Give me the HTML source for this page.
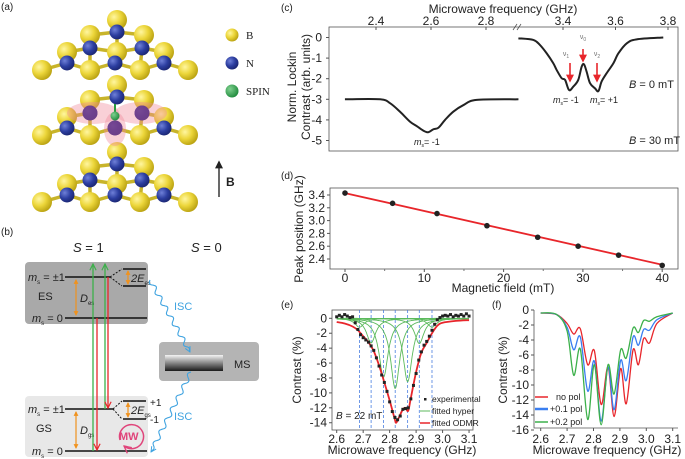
<!DOCTYPE html>
<html><head><meta charset="utf-8"><style>
html,body{margin:0;padding:0;background:#fff;}
svg{display:block;font-family:"Liberation Sans",Arial,sans-serif;}
text{fill:#222;}
</style></head><body>
<svg id="fig" width="685" height="459" viewBox="0 0 685 459" xmlns="http://www.w3.org/2000/svg">
<defs>
<radialGradient id="gy" cx="35%" cy="35%" r="70%"><stop offset="0" stop-color="#fff6a0"/><stop offset="0.5" stop-color="#ecd63a"/><stop offset="1" stop-color="#b8a010"/></radialGradient>
<radialGradient id="gb" cx="35%" cy="35%" r="70%"><stop offset="0" stop-color="#6f80d8"/><stop offset="0.55" stop-color="#2c3ea0"/><stop offset="1" stop-color="#1a2570"/></radialGradient>
<radialGradient id="gg" cx="35%" cy="35%" r="70%"><stop offset="0" stop-color="#7fd08f"/><stop offset="1" stop-color="#1f8a3c"/></radialGradient>
<linearGradient id="msg" x1="0" y1="0" x2="0" y2="1"><stop offset="0" stop-color="#f4f4f4"/><stop offset="1" stop-color="#1a1a1a"/></linearGradient>
<marker id="ah" viewBox="0 0 10 10" refX="9" refY="5" markerWidth="6" markerHeight="6" orient="auto-start-reverse"><path d="M1,1 L9,5 L1,9" fill="none" stroke="context-stroke" stroke-width="1.5"/></marker>
<marker id="ahr" viewBox="0 0 10 10" refX="8" refY="5" markerWidth="5" markerHeight="5" orient="auto"><path d="M0,0 L10,5 L0,10 z" fill="#e8262b"/></marker>
<marker id="aho" viewBox="0 0 10 10" refX="8" refY="5" markerWidth="4" markerHeight="4" orient="auto-start-reverse"><path d="M0,0 L10,5 L0,10 z" fill="#f0921e"/></marker>
<marker id="ahk" viewBox="0 0 10 10" refX="8" refY="5" markerWidth="5" markerHeight="5" orient="auto"><path d="M0,0 L10,5 L0,10 z" fill="#222"/></marker>
</defs>

<!-- Panel (a) -->
<g id="panelA">
<text x="1" y="10" font-size="10">(a)</text>
<g id="atoms"></g>
<g>
<circle cx="232" cy="35" r="6.5" fill="url(#gy)"/>
<text x="246" y="39" font-size="11" font-family="Liberation Serif,serif">B</text>
<circle cx="232" cy="63" r="6.5" fill="url(#gb)"/>
<text x="246" y="67" font-size="11" font-family="Liberation Serif,serif">N</text>
<circle cx="232" cy="91" r="6.5" fill="url(#gg)"/>
<text x="246" y="95" font-size="11" font-family="Liberation Serif,serif">SPIN</text>
</g>
<line x1="219" y1="197" x2="219" y2="162" stroke="#444" stroke-width="1.6" marker-end="url(#ahk)"/>
<text x="226" y="186" font-size="12" font-weight="bold">B</text>
</g>

<!-- Panel (b) -->
<g id="panelB" font-size="11">
<text x="1" y="235" font-size="10">(b)</text>
<text x="73" y="252" font-size="13"><tspan font-style="italic">S</tspan> = 1</text>
<text x="191" y="252" font-size="13"><tspan font-style="italic">S</tspan> = 0</text>
<rect x="25" y="262" width="123" height="62" rx="4" fill="#a9a9a9"/>
<rect x="25" y="396" width="123" height="61" rx="4" fill="#e8e8e8"/>
<rect x="159" y="342" width="100" height="39" rx="4" fill="#b4b4b4"/>
<rect x="165" y="355" width="58" height="16" fill="url(#msg)"/>
<text x="234" y="368" font-size="11">MS</text>
<line x1="65" y1="277" x2="110" y2="277" stroke="#111" stroke-width="1.6"/>
<line x1="65" y1="318" x2="147" y2="318" stroke="#111" stroke-width="1.6"/>
<line x1="65" y1="409" x2="113" y2="409" stroke="#111" stroke-width="1.6"/>
<line x1="65" y1="451" x2="147" y2="451" stroke="#111" stroke-width="1.6"/>
<line x1="123" y1="269" x2="146" y2="269" stroke="#111" stroke-width="1.4"/>
<line x1="123" y1="286" x2="146" y2="286" stroke="#111" stroke-width="1.4"/>
<line x1="123" y1="401" x2="146" y2="401" stroke="#111" stroke-width="1.4"/>
<line x1="123" y1="419" x2="146" y2="419" stroke="#111" stroke-width="1.4"/>
<path d="M110,277 L122,269 M110,277 L122,286 M113,409 L122,401 M113,409 L122,419" stroke="#111" stroke-dasharray="2,1.5" fill="none"/>
<line x1="128" y1="271" x2="128" y2="284" stroke="#f0921e" stroke-width="1.2" marker-start="url(#aho)" marker-end="url(#aho)"/>
<line x1="128" y1="403" x2="128" y2="417" stroke="#f0921e" stroke-width="1.2" marker-start="url(#aho)" marker-end="url(#aho)"/>
<line x1="76" y1="280" x2="76" y2="315" stroke="#f0921e" stroke-width="1.2" marker-start="url(#aho)" marker-end="url(#aho)"/>
<line x1="76" y1="412" x2="76" y2="448" stroke="#f0921e" stroke-width="1.2" marker-start="url(#aho)" marker-end="url(#aho)"/>
<text x="131" y="282" font-size="11"><tspan font-style="italic">2E</tspan><tspan font-size="6" dy="3">es</tspan></text>
<text x="131" y="414" font-size="11"><tspan font-style="italic">2E</tspan><tspan font-size="6" dy="3">gs</tspan></text>
<text x="80" y="302" font-size="11"><tspan font-style="italic">D</tspan><tspan font-size="6" dy="3">es</tspan></text>
<text x="80" y="434" font-size="11"><tspan font-style="italic">D</tspan><tspan font-size="6" dy="3">gs</tspan></text>
<text x="150" y="406" font-size="10">+1</text>
<text x="150" y="423" font-size="10">-1</text>
<text x="38" y="300" font-size="11">ES</text>
<text x="36" y="432" font-size="11">GS</text>
<text x="28" y="281" font-size="11"><tspan font-style="italic">m</tspan><tspan font-size="6" dy="3">s</tspan><tspan dy="-3"> = ±1</tspan></text>
<text x="32" y="322" font-size="11"><tspan font-style="italic">m</tspan><tspan font-size="6" dy="3">s</tspan><tspan dy="-3"> = 0</tspan></text>
<text x="28" y="413" font-size="11"><tspan font-style="italic">m</tspan><tspan font-size="6" dy="3">s</tspan><tspan dy="-3"> = ±1</tspan></text>
<text x="32" y="455" font-size="11"><tspan font-style="italic">m</tspan><tspan font-size="6" dy="3">s</tspan><tspan dy="-3"> = 0</tspan></text>
<line x1="93" y1="451" x2="93" y2="264" stroke="#3cb04a" stroke-width="1.3" marker-end="url(#ah)"/>
<line x1="105" y1="409" x2="105" y2="264" stroke="#3cb04a" stroke-width="1.3" marker-end="url(#ah)"/>
<line x1="97" y1="318" x2="97" y2="450" stroke="#e8262b" stroke-width="1.3" marker-end="url(#ah)"/>
<line x1="108" y1="277" x2="108" y2="408" stroke="#e8262b" stroke-width="1.3" marker-end="url(#ah)"/>
<path d="M120,440 A12,12 0 1 1 124,446" fill="none" stroke="#e0457b" stroke-width="1.5" marker-end="url(#ah)"/>
<text x="119" y="440" font-size="11" font-weight="bold" style="fill:#e0457b">MW</text>
<path id="isc1" fill="none" stroke="#3fa3e0" stroke-width="1.1" marker-end="url(#ah)"/>
<path id="isc2" fill="none" stroke="#3fa3e0" stroke-width="1.1" marker-end="url(#ah)"/>
<text x="174" y="310" font-size="11" style="fill:#3fa3e0">ISC</text>
<text x="174" y="420" font-size="11" style="fill:#3fa3e0">ISC</text>
</g>

<!-- Panel (c) -->
<g id="panelC">
<text x="281" y="11" font-size="10">(c)</text>
<text x="503" y="13" font-size="12" text-anchor="middle">Microwave frequency (GHz)</text>
<rect x="329" y="27" width="349" height="124" fill="none" stroke="#555" stroke-width="0.8"/>
<g id="cAxes"></g>
<g id="cSeries"></g>
<text transform="translate(296,87) rotate(-90)" font-size="12" text-anchor="middle">Norm. Lockin</text>
<text transform="translate(310,87) rotate(-90)" font-size="12" text-anchor="middle">Contrast (arb. units)</text>
<text x="566" y="56" font-size="7" text-anchor="middle" style="fill:#777">ν<tspan font-size="5" dy="2">1</tspan></text>
<text x="583" y="39" font-size="7" text-anchor="middle" style="fill:#777">ν<tspan font-size="5" dy="2">0</tspan></text>
<text x="597" y="56" font-size="7" text-anchor="middle" style="fill:#777">ν<tspan font-size="5" dy="2">2</tspan></text>
<line x1="570" y1="63" x2="570" y2="81" stroke="#e8262b" stroke-width="1.6" marker-end="url(#ahr)"/>
<line x1="583" y1="49" x2="583" y2="61" stroke="#e8262b" stroke-width="1.6" marker-end="url(#ahr)"/>
<line x1="597" y1="63" x2="597" y2="81" stroke="#e8262b" stroke-width="1.6" marker-end="url(#ahr)"/>
<text x="553" y="103" font-size="9"><tspan font-style="italic">m</tspan><tspan font-size="5" dy="2">s</tspan><tspan dy="-2">= -1</tspan></text>
<text x="590" y="103" font-size="9"><tspan font-style="italic">m</tspan><tspan font-size="5" dy="2">s</tspan><tspan dy="-2">= +1</tspan></text>
<text x="414" y="145" font-size="9"><tspan font-style="italic">m</tspan><tspan font-size="5" dy="2">s</tspan><tspan dy="-2">= -1</tspan></text>
<text x="629" y="88" font-size="11"><tspan font-style="italic">B</tspan> =   0 mT</text>
<text x="629" y="144" font-size="11"><tspan font-style="italic">B</tspan> = 30 mT</text>
</g>

<!-- Panel (d) -->
<g id="panelD">
<text x="281" y="179" font-size="10">(d)</text>
<rect x="330" y="188" width="348" height="81" fill="none" stroke="#555" stroke-width="0.8"/>
<g id="dAxes"></g>
<g id="dSeries"></g>
<text transform="translate(303,229) rotate(-90)" font-size="12" text-anchor="middle">Peak position (GHz)</text>
<text x="503" y="292" font-size="12" text-anchor="middle">Magnetic field (mT)</text>
</g>

<!-- Panel (e) -->
<g id="panelE">
<text x="281" y="308" font-size="10">(e)</text>
<rect x="332" y="310" width="141" height="120" fill="none" stroke="#555" stroke-width="0.8"/>
<g id="eAxes"></g>
<g id="eSeries"></g>
<text transform="translate(301,370) rotate(-90)" font-size="12" text-anchor="middle">Contrast (%)</text>
<text x="402" y="454" font-size="12" text-anchor="middle">Microwave frequency (GHz)</text>
<text x="336" y="419" font-size="10"><tspan font-style="italic">B</tspan> = 22 mT</text>
<g font-size="8.5">
<rect x="424" y="398" width="2.5" height="2.5" fill="#222"/>
<text x="432" y="402">experimental</text>
<line x1="420" y1="411" x2="430" y2="411" stroke="#5cba5c" stroke-width="1"/>
<text x="432" y="414">fitted hyper</text>
<line x1="420" y1="423" x2="430" y2="423" stroke="#e8262b" stroke-width="1.5"/>
<text x="432" y="426">fitted ODMR</text>
</g>
</g>

<!-- Panel (f) -->
<g id="panelF">
<text x="492" y="308" font-size="10">(f)</text>
<path d="M534,310 L534,428 L678,428" fill="none" stroke="#555" stroke-width="0.8"/>
<g id="fAxes"></g>
<g id="fSeries"></g>
<text transform="translate(507,370) rotate(-90)" font-size="12" text-anchor="middle">Contrast (%)</text>
<text x="607" y="454" font-size="12" text-anchor="middle">Microwave frequency (GHz)</text>
<g font-size="9">
<line x1="535" y1="397" x2="548" y2="397" stroke="#e8262b" stroke-width="1.5"/>
<text x="556" y="400">no  pol</text>
<line x1="535" y1="409" x2="548" y2="409" stroke="#3a7ef0" stroke-width="2.5"/>
<text x="550" y="412">+0.1 pol</text>
<line x1="535" y1="422" x2="548" y2="422" stroke="#3cb04a" stroke-width="1.5"/>
<text x="550" y="425">+0.2 pol</text>
</g>
</g>
</svg>
<script>
// ===== Panel (c) data =====
const cLeftFreq = [2.287,2.415,2.451,2.487,2.524,2.548,2.572,2.590,2.608,2.627,2.651,2.681,2.718,2.766,2.918];
const cLeftVal  = [-3.0,-3.0,-3.19,-3.6,-4.09,-4.3,-4.52,-4.6,-4.46,-4.38,-4.0,-3.6,-3.28,-3.03,-3.0];
const cRightFreq = [3.230,3.287,3.312,3.338,3.363,3.376,3.395,3.408,3.423,3.439,3.458,3.471,3.480,3.490,3.503,3.522,3.535,3.547,3.566,3.592,3.611,3.643,3.681,3.782];
const cRightVal  = [-0.04,-0.12,-0.36,-0.77,-1.25,-1.58,-1.98,-2.06,-2.55,-2.39,-2.06,-1.42,-1.3,-1.66,-2.22,-2.47,-2.6,-2.14,-1.74,-1.25,-0.77,-0.28,-0.09,0];
const cLeftTicks = [2.4,2.6,2.8];
const cRightTicks = [3.4,3.6,3.8];
const cYTicks = [0,-1,-2,-3,-4,-5];
// ===== Panel (d) data =====
const dField = [0,6,11.6,17.9,24.3,29.4,34.5,40];
const dPeak = [3.43,3.27,3.11,2.92,2.74,2.60,2.46,2.30];
const dFitStart = [0,3.43];
const dFitEnd = [40,2.31];
const dXTicks = [0,10,20,30,40];
const dYTicks = [2.4,2.6,2.8,3.0,3.2,3.4];
// ===== Panel (e) data =====
const eCenters = [2.686,2.730,2.777,2.821,2.868,2.912,2.960];
const eDepths = [-1.2,-3.3,-7.9,-9.4,-8.5,-3.4,-1.2];
const eHwhm = [0.021,0.021,0.021,0.021,0.021,0.021,0.021];
const eFitFreq = [2.60,2.63,2.66,2.68,2.70,2.72,2.74,2.76,2.78,2.80,2.81,2.82,2.825,2.835,2.85,2.86,2.87,2.88,2.90,2.92,2.94,2.96,2.98,3.00,3.05,3.10];
const eFitVal  = [-0.5,-0.7,-1.1,-1.6,-2.4,-3.2,-4.4,-6.3,-8.6,-11.0,-12.3,-13.6,-14.0,-13.3,-12.2,-12.0,-12.4,-10.7,-7.2,-4.6,-3.3,-2.0,-1.0,-0.6,-0.35,-0.25];
const eExpFreq = [2.60,2.61,2.62,2.63,2.64,2.65,2.66,2.67,2.68,2.69,2.70,2.71,2.72,2.73,2.74,2.75,2.76,2.77,2.78,2.79,2.80,2.81,2.82,2.83,2.84,2.85,2.86,2.87,2.88,2.89,2.90,2.91,2.92,2.93,2.94,2.95,2.96,2.97,2.98,2.99,3.00,3.01,3.02,3.03,3.04,3.05,3.06,3.07,3.08,3.09,3.10];
const eExpVal = [0.2,0.4,0.2,0.5,0.3,0.1,0.2,-0.6,-1.5,-2.2,-2.6,-2.9,-3.2,-3.7,-4.3,-5.3,-6.4,-7.6,-8.6,-9.8,-11.2,-12.5,-13.3,-13.6,-13.1,-12.2,-12.1,-12.0,-10.8,-9.0,-7.4,-5.6,-4.5,-3.6,-3.1,-2.4,-1.6,-0.8,-0.2,0.1,0.3,0.4,0.3,0.5,0.2,0.4,0.3,0.5,0.3,0.6,0.3];
const eXTicks = [2.6,2.7,2.8,2.9,3.0,3.1];
const eYTicks = [0,-2,-4,-6,-8,-10,-12,-14];
// ===== Panel (f) data =====
const fFreq = [2.60,2.66,2.70,2.725,2.75,2.778,2.803,2.829,2.855,2.878,2.903,2.924,2.950,2.970,2.990,3.012,3.040,3.10];
const fNoPol = [-0.4,-0.6,-1.8,-3.2,-2.5,-7.3,-5.4,-12.6,-7.6,-14.2,-7.8,-12.5,-5.3,-7.3,-3.8,-4.4,-1.8,-0.4];
const fPol01 = [-0.4,-0.6,-2.3,-5.3,-3.6,-10.8,-6.8,-14.8,-7.6,-13.3,-6.7,-9.4,-3.6,-4.7,-2.6,-2.7,-1.3,-0.4];
const fPol02 = [-0.4,-0.6,-2.8,-8.7,-5.2,-14.6,-7.3,-15.3,-7.3,-11.2,-5.3,-6.4,-2.4,-3.0,-1.4,-1.5,-0.9,-0.4];
const fXTicks = [2.6,2.7,2.8,2.9,3.0,3.1];
const fYTicks = [0,-2,-4,-6,-8,-10,-12,-14,-16];

const NS='http://www.w3.org/2000/svg';
function mk(tag, attrs, parent){const e=document.createElementNS(NS,tag);for(const k in attrs)e.setAttribute(k,attrs[k]);parent.appendChild(e);return e;}
function txt(x,y,s,anchor,size,parent){const t=mk('text',{x:x,y:y,'text-anchor':anchor,'font-size':size},parent);t.textContent=s;return t;}
function crPath(pts){let d='M'+pts[0][0].toFixed(2)+','+pts[0][1].toFixed(2);
 for(let i=0;i<pts.length-1;i++){const p0=pts[Math.max(0,i-1)],p1=pts[i],p2=pts[i+1],p3=pts[Math.min(pts.length-1,i+2)];
 const c1=[p1[0]+(p2[0]-p0[0])/6,p1[1]+(p2[1]-p0[1])/6],c2=[p2[0]-(p3[0]-p1[0])/6,p2[1]-(p3[1]-p1[1])/6];
 d+=' C'+c1[0].toFixed(2)+','+c1[1].toFixed(2)+' '+c2[0].toFixed(2)+','+c2[1].toFixed(2)+' '+p2[0].toFixed(2)+','+p2[1].toFixed(2);}return d;}

// ---- Panel (a) lattice ----
(function(){
 const g=document.getElementById('atoms');
 const tpl=[['B',0,12],['Y',0,0],['Y',-27,15],['Y',27,15],['B',-27,28],['B',25,28],['Y',-50,32],['Y',0,32],['Y',47,32],['B',-50,43],['B',-2,43],['B',47,43],['Y',-75,50],['Y',-27,50],['Y',23,50],['Y',71,50]];
 const layers=[[117,20],[117,85],[117,152]];
 layers.forEach((L,li)=>{
  const lg=mk('g',{},g);
  
  
  const bs=tpl.filter(a=>a[0]==='B'), ys=tpl.filter(a=>a[0]==='Y');
  bs.forEach(b=>ys.forEach(y=>{const dx=b[1]-y[1],dy=b[2]-y[2];const d=Math.hypot(dx,dy);if(d<30){if(li===1&&y[1]===0&&y[2]===32)return;mk('line',{x1:L[0]+b[1],y1:L[1]+b[2],x2:L[0]+y[1],y2:L[1]+y[2],stroke:'#c8b42a','stroke-width':3.5},lg);}}));
  const order=tpl.slice().sort((a,b)=>a[2]-b[2]);
  order.forEach(a=>{
   if(li===1&&a[0]==='Y'&&a[1]===0&&a[2]===32)return;
   mk('circle',{cx:L[0]+a[1],cy:L[1]+a[2],r:a[0]==='Y'?10:7.5,fill:a[0]==='Y'?'url(#gy)':'url(#gb)'},lg);
  });
 });
 const sp=mk('g',{},g);
 
 
 mk('ellipse',{cx:93,cy:113,rx:26,ry:11,fill:'#f08a9a','fill-opacity':0.4},sp);
 mk('ellipse',{cx:141,cy:113,rx:26,ry:11,fill:'#f08a9a','fill-opacity':0.4},sp);
 mk('ellipse',{cx:115,cy:129,rx:11,ry:17,fill:'#f08a9a','fill-opacity':0.4},sp);
 mk('circle',{cx:90,cy:113,r:7.5,fill:'#6a3a8a','fill-opacity':0.8},sp);
 mk('circle',{cx:142,cy:113,r:7.5,fill:'#6a3a8a','fill-opacity':0.8},sp);
 mk('circle',{cx:115,cy:128,r:7.5,fill:'#6a3a8a','fill-opacity':0.8},sp);
 mk('line',{x1:115,y1:104,x2:115,y2:112,stroke:'#2a9a40','stroke-width':2},sp);
 mk('circle',{cx:115,cy:116,r:4.5,fill:'url(#gg)'},sp);
})();

// ---- Panel (b) wavy ISC ----
function wavy(id,x1,y1,x2,y2,n,amp){const dx=x2-x1,dy=y2-y1,L=Math.hypot(dx,dy),ux=dx/L,uy=dy/L,px=-uy,py=ux;let d='';const N=120;
 for(let i=0;i<=N;i++){const t=i/N,s=Math.sin(t*n*2*Math.PI)*amp*(t<0.92?1:(1-t)/0.08);const x=x1+dx*t+px*s,y=y1+dy*t+py*s;d+=(i?'L':'M')+x.toFixed(1)+','+y.toFixed(1);}
 const p=document.getElementById(id);p.setAttribute('d',d);
 
 }
wavy('isc1',150,280,190,352,7,2.2);
wavy('isc2',191,372,151,452,7,2.2);

// ---- Panel (c) ----
(function(){
 const xL=f=>376+(f-2.4)*275, xR=f=>563+(f-3.4)*262.5, y=v=>37.5-v*20.6;
 const ax=document.getElementById('cAxes'), se=document.getElementById('cSeries');
 cLeftTicks.forEach(t=>{mk('line',{x1:xL(t),y1:27,x2:xL(t),y2:30,stroke:'#555'},ax);const e=txt(xL(t),25,t.toFixed(1),'middle',12,ax);
  
  });
 cRightTicks.forEach(t=>{mk('line',{x1:xR(t),y1:27,x2:xR(t),y2:30,stroke:'#555'},ax);const e=txt(xR(t),25,t.toFixed(1),'middle',12,ax);
  
  });
 mk('path',{d:'M513,30 L517,24 M517,30 L521,24',stroke:'#555','stroke-width':0.8},ax);
 cYTicks.forEach(t=>{mk('line',{x1:326,y1:y(t),x2:329,y2:y(t),stroke:'#555'},ax);const e=txt(322,y(t)+4,String(t),'end',12,ax);
  
  });
 const p1=mk('path',{d:crPath(cLeftFreq.map((f,i)=>[xL(f),y(cLeftVal[i])])),fill:'none',stroke:'#222','stroke-width':2},se);
 
 
 const p2=mk('path',{d:crPath(cRightFreq.map((f,i)=>[xR(f),y(cRightVal[i])])),fill:'none',stroke:'#222','stroke-width':2},se);
 
 
})();

// ---- Panel (d) ----
(function(){
 const x=v=>345+v*7.93, y=v=>195+(3.4-v)*64;
 const ax=document.getElementById('dAxes'), se=document.getElementById('dSeries');
 dXTicks.forEach(t=>{mk('line',{x1:x(t),y1:269,x2:x(t),y2:272,stroke:'#555'},ax);const e=txt(x(t),282,String(t),'middle',12,ax);
  
  
  mk('line',{x1:x(t+5),y1:269,x2:x(t+5),y2:271,stroke:'#777'},ax);});
 dYTicks.forEach(t=>{mk('line',{x1:327,y1:y(t),x2:330,y2:y(t),stroke:'#555'},ax);const e=txt(325,y(t)+4,t.toFixed(1),'end',12,ax);
  
  });
 const fl=mk('line',{x1:x(dFitStart[0]),y1:y(dFitStart[1]),x2:x(dFitEnd[0]),y2:y(dFitEnd[1]),stroke:'#e8262b','stroke-width':1.8},se);
 
 
 dField.forEach((f,i)=>{const c=mk('circle',{cx:x(f),cy:y(dPeak[i]),r:2.8,fill:'#222'},se);
  
  });
})();

// ---- Panel (e) ----
(function(){
 const x=f=>336.7+(f-2.6)*264.7, y=v=>318.3-v*7.46;
 const ax=document.getElementById('eAxes'), se=document.getElementById('eSeries');
 eXTicks.forEach(t=>{mk('line',{x1:x(t),y1:430,x2:x(t),y2:433,stroke:'#555'},ax);const e=txt(x(t),443,t.toFixed(1),'middle',12,ax);
  
  });
 eYTicks.forEach(t=>{mk('line',{x1:329,y1:y(t),x2:332,y2:y(t),stroke:'#555'},ax);const e=txt(327,y(t)+4,String(t),'end',12,ax);
  
  });
 eCenters.forEach(c=>{const l=mk('line',{x1:x(c),y1:310,x2:x(c),y2:430,stroke:'#4a7fe0','stroke-width':0.8,'stroke-dasharray':'3,2'},se);
  
  });
 const N=200,fs=[];for(let i=0;i<=N;i++)fs.push(2.6+0.5*i/N);
 const lor=(f,k)=>eDepths[k]/(1+Math.pow((f-eCenters[k])/eHwhm[k],2));
 eCenters.forEach((c,k)=>{const p=mk('path',{d:fs.map((f,i)=>(i?'L':'M')+x(f).toFixed(1)+','+y(lor(f,k)).toFixed(1)).join(''),fill:'none',stroke:'#5cba5c','stroke-width':0.9},se);
  
  });
 const rp=mk('path',{d:crPath(eFitFreq.map((f,i)=>[x(f),y(eFitVal[i])])),fill:'none',stroke:'#e8262b','stroke-width':1.8},se);
 
 
 eExpFreq.forEach((f,i)=>{const r=mk('rect',{x:x(f)-1.5,y:y(eExpVal[i])-1.5,width:3,height:3,fill:'#222'},se);
  
  });
})();

// ---- Panel (f) ----
(function(){
 const x=f=>540.7+(f-2.6)*264, y=v=>310-v*7.5;
 const ax=document.getElementById('fAxes'), se=document.getElementById('fSeries');
 fXTicks.forEach(t=>{mk('line',{x1:x(t),y1:428,x2:x(t),y2:431,stroke:'#555'},ax);const e=txt(x(t),443,t.toFixed(1),'middle',12,ax);
  
  });
 fYTicks.forEach(t=>{mk('line',{x1:531,y1:y(t),x2:534,y2:y(t),stroke:'#555'},ax);const e=txt(529,y(t)+4,String(t),'end',12,ax);
  
  });
 const series=[[fNoPol,'#e8262b','no-pol-line'],[fPol01,'#3a7ef0','pol-0-1-line'],[fPol02,'#3cb04a','pol-0-2-line']];
 series.forEach(s=>{const p=mk('path',{d:crPath(fFreq.map((f,i)=>[x(f),y(s[0][i])])),fill:'none',stroke:s[1],'stroke-width':1.3},se);
  
  });
})();
</script>
</body></html>
